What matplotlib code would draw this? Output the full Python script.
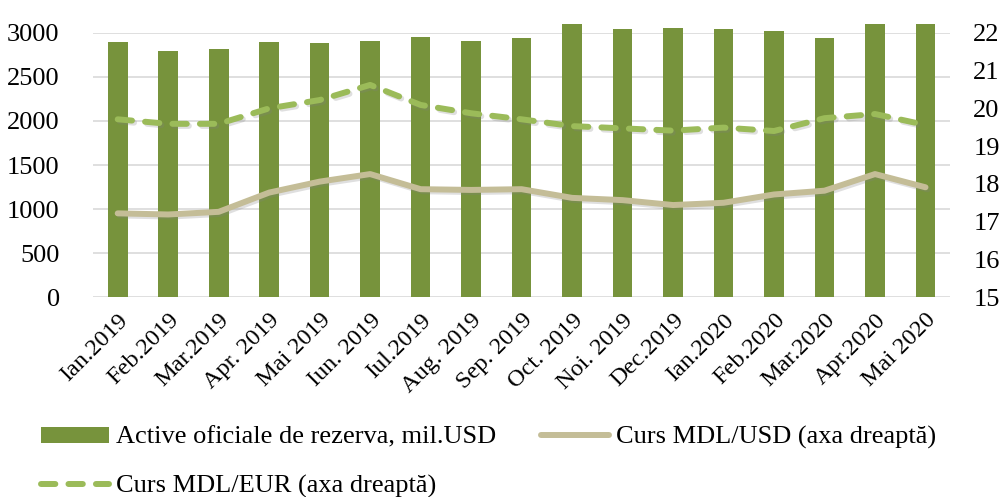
import matplotlib.pyplot as plt
import matplotlib.patheffects as pe
import numpy as np

# --- Data ---
luni = ["Ian.2019", "Feb.2019", "Mar.2019", "Apr. 2019", "Mai 2019", "Iun. 2019",
        "Iul.2019", "Aug. 2019", "Sep. 2019", "Oct. 2019", "Noi. 2019", "Dec.2019",
        "Ian.2020", "Feb.2020", "Mar.2020", "Apr.2020", "Mai 2020"]
active_rezerva = [2900, 2790, 2820, 2898, 2886, 2905, 2947, 2909, 2936, 3098,
                  3045, 3053, 3042, 3019, 2939, 3102, 3102]
curs_usd = [17.22, 17.19, 17.26, 17.77, 18.06, 18.26, 17.86, 17.84, 17.86, 17.63,
            17.57, 17.44, 17.50, 17.72, 17.82, 18.26, 17.91]
curs_eur = [19.71, 19.59, 19.59, 20.00, 20.22, 20.62, 20.09, 19.87, 19.71, 19.53,
            19.47, 19.41, 19.49, 19.40, 19.74, 19.85, 19.56]

# --- Style ---
plt.rcParams['font.family'] = ['Liberation Serif', 'DejaVu Serif']
c_bar = "#77933C"
c_usd = "#C4BD97"
c_eur = "#9BBB59"
fs = 19
umbra = [pe.SimpleLineShadow(offset=(1.5, -1.5), shadow_color="gray", alpha=0.25),
         pe.Normal()]

fig = plt.figure(figsize=(10.05, 4.97), dpi=100)
ax = fig.add_axes([0.0925, 0.402, 0.8525, 0.532])
ax2 = ax.twinx()

x = np.arange(len(luni))
bars = ax.bar(x, active_rezerva, width=0.39, color=c_bar, zorder=2, clip_on=False,
              label="Active oficiale de rezerva, mil.USD")
ax.set_ylim(0, 3000)
ax.set_yticks(range(0, 3001, 500))
ax.set_xlim(-0.49, 16.48)
ax.yaxis.grid(True, color="#D9D9D9", lw=1.2, zorder=0)
ax.set_axisbelow(True)

l_usd, = ax2.plot(x, curs_usd, color=c_usd, lw=4.3, solid_capstyle="round",
                  path_effects=umbra, label="Curs MDL/USD (axa dreaptă)")
l_eur, = ax2.plot(x, curs_eur, color=c_eur, lw=4.3, dash_capstyle="round",
                  dashes=(2.4, 2.2), path_effects=umbra,
                  label="Curs MDL/EUR (axa dreaptă)")
ax2.set_ylim(15, 22)
ax2.set_yticks(range(15, 23))

for a in (ax, ax2):
    for s in a.spines.values():
        s.set_visible(False)
    a.tick_params(length=0, labelsize=fs)
ax.tick_params(axis="y", pad=24)
ax2.tick_params(axis="y", pad=17)

ax.set_xticks(x)
ax.set_xticklabels(luni, rotation=45, ha="right", rotation_mode="anchor", fontsize=17.5)
ax.tick_params(axis="x", pad=9)

leg = fig.legend(handles=[bars, l_eur, l_usd], ncol=2, loc="lower left",
                 bbox_to_anchor=(0.022, -0.04), frameon=False, fontsize=19,
                 handlelength=2.6, handleheight=0.55, handletextpad=0.25,
                 columnspacing=1.7, labelspacing=1.0, borderpad=0.2)
for h in leg.get_lines():
    h.set_path_effects([])

fig.savefig("out.png", dpi=100)
